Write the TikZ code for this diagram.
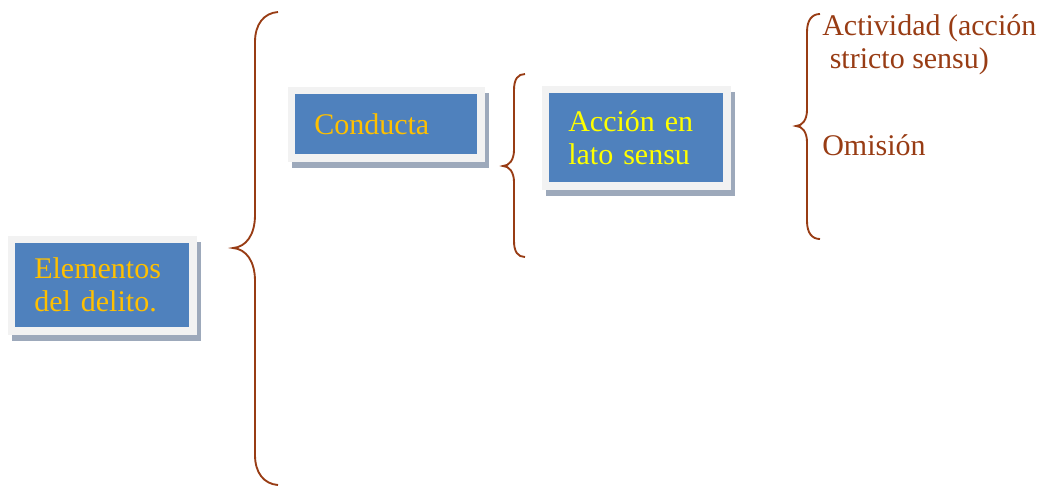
\documentclass[tikz,border=0pt]{standalone}
\usepackage{fontspec}
\setmainfont{Liberation Serif}
\usetikzlibrary{backgrounds}

\definecolor{azul}{HTML}{4F81BD}
\definecolor{marcogris}{HTML}{F2F2F2}
\definecolor{sombragris}{HTML}{9DA9BB}
\definecolor{oro}{HTML}{FFC000}
\definecolor{amarillo}{HTML}{FFFF00}
\definecolor{cafe}{HTML}{983C14}

\tikzset{
  caja/.style={fill=azul, anchor=north west, align=left, inner xsep=14.25pt,
    inner ysep=0pt, font=\fontsize{22.5}{24.75}\selectfont},
  rama/.style={text=cafe, anchor=base west, align=left, inner sep=0pt,
    font=\fontsize{22.5}{24.75}\selectfont},
  llave/.style={draw=cafe, line width=1.4pt}
}

\begin{document}
\begin{tikzpicture}[x=0.75pt,y=-0.75pt]
    \useasboundingbox (0,0) rectangle (1041,487);
    % cajas
    \node[caja, text=oro, text width=102pt, minimum height=63pt] (elem) at (15,243) {Elementos\\del delito.};
    \node[caja, text=oro, text width=108pt, minimum height=45pt] (cond) at (295,94) {Conducta};
    \node[caja, text=amarillo, text width=102pt, minimum height=66.75pt] (acc) at (549,93) {Acción en\\lato sensu};
    \begin{scope}[on background layer]
        \foreach \b in {elem,cond,acc} {
            \fill[sombragris] ([shift={(-3,-1)}]\b.north west) rectangle ([shift={(11,13)}]\b.south east);
            \fill[marcogris] ([shift={(-7,-7)}]\b.north west) rectangle ([shift={(7,7)}]\b.south east);
        }
    \end{scope}
    % llaves
    \draw[llave] (278,12) .. controls (264,13) and (255,24) .. (255,42) -- (255,215)
        .. controls (255,235) and (246,247) .. (233,248)
        .. controls (246,249) and (255,261) .. (255,281) -- (255,455)
        .. controls (255,473) and (264,484) .. (278,485);
    \draw[llave] (525,74) .. controls (518,74) and (514,79) .. (514,90) -- (514,150)
        .. controls (514,160) and (509,166) .. (503,166)
        .. controls (509,166) and (514,172) .. (514,182) -- (514,241)
        .. controls (514,252) and (518,257) .. (525,257);
    \draw[llave] (820,14) .. controls (812,14) and (807,20) .. (807,32) -- (807,110)
        .. controls (807,120) and (802,126) .. (796,126)
        .. controls (802,126) and (807,132) .. (807,142) -- (807,221)
        .. controls (807,233) and (812,239) .. (820,239);
    % ramas
    \node[rama] (act) at (822,68) {Actividad (acción\\~stricto sensu)};
    \node[rama] (omi) at (822,155) {Omisión};
\end{tikzpicture}
\end{document}
